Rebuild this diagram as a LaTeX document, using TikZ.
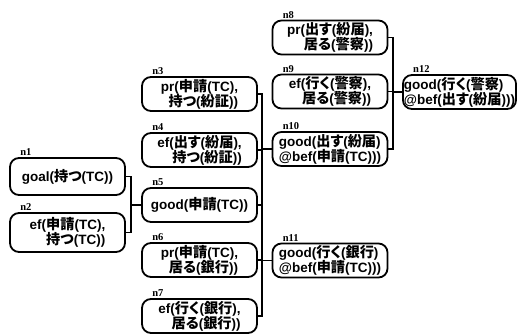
\documentclass[tikz,border=0pt]{standalone}
\usepackage{fontspec}
\setmainfont{Liberation Sans}
\newfontfamily\jpf{Noto Sans CJK JP}[Scale=1.05, RawFeature=+palt]
\newfontfamily\lblf{Liberation Serif}
\newcommand{\jj}[1]{{\jpf\bfseries #1}}
\begin{document}
\begin{tikzpicture}[x=1pt,y=-1pt,
  box/.style={draw, line width=1.8pt, rounded corners=9pt, minimum width=115pt,
    minimum height=34pt, inner sep=1pt, font=\fontsize{13.5}{15}\selectfont\bfseries},
  boxr/.style={box, align=right},
  boxl/.style={box, align=left},
  lbl/.style={font=\lblf\fontsize{10.5}{10}\selectfont\bfseries, anchor=south west, inner sep=1pt},
  conn/.style={line width=1.6pt}]
\useasboundingbox (0,0) rectangle (520,334);
\fill[white] (0,0) rectangle (520,334);
% column 1
\node[box, minimum height=37pt] (n1) at (67.5,176.5) {goal(\jj{持つ}(TC))};
\node[boxr, minimum height=39pt] (n2) at (67.5,232.5) {ef(\jj{申請}(TC),\\\jj{持つ}(TC))};
% column 2
\node[boxr] (n3) at (199.5,94) {pr(\jj{申請}(TC),\\\jj{持つ}(\jj{紛証}))};
\node[boxr] (n4) at (199.5,150) {ef(\jj{出す}(\jj{紛届}),\\\jj{持つ}(\jj{紛証}))};
\node[box] (n5) at (199.5,205) {good(\jj{申請}(TC))};
\node[boxr] (n6) at (199.5,260) {pr(\jj{申請}(TC),\\\jj{居る}(\jj{銀行}))};
\node[boxr] (n7) at (199.5,316) {ef(\jj{行く}(\jj{銀行}),\\\jj{居る}(\jj{銀行}))};
% column 3
\node[boxr] (n8) at (330,37.5) {pr(\jj{出す}(\jj{紛届}),\\\jj{居る}(\jj{警察}))};
\node[boxr] (n9) at (330,91.5) {ef(\jj{行く}(\jj{警察}),\\\jj{居る}(\jj{警察}))};
\node[boxl] (n10) at (330,149) {good(\jj{出す}(\jj{紛届})\\@bef(\jj{申請}(TC)))};
\node[boxl] (n11) at (330,260.5) {good(\jj{行く}(\jj{銀行})\\@bef(\jj{申請}(TC)))};
% column 4
\node[boxl, minimum width=113pt] (n12) at (459.5,92) {good(\jj{行く}(\jj{警察})\\@bef(\jj{出す}(\jj{紛届})))};
% labels
\foreach \n in {1,...,12} {
  \node[lbl] (l\n) at ([xshift=10pt]n\n.north west) {n\n};
}
% connectors
\coordinate (b1) at (131,0);
\coordinate (b2) at (262,0);
\coordinate (b3) at (393,0);
\draw[conn] (n1.east) -- (n1.east -| b1) -- (n2.east -| b1) -- (n2.east);
\draw[conn] (n5.west) -- (n5.west -| b1);
\draw[conn] (n3.east) -- (n3.east -| b2) -- (n7.east -| b2) -- (n7.east);
\draw[conn] (n4.east) -- (n4.east -| b2);
\draw[conn] (n5.east) -- (n5.east -| b2);
\draw[conn] (n6.east) -- (n6.east -| b2);
\draw[conn] (n10.west) -- (n10.west -| b2);
\draw[conn] (n11.west) -- (n11.west -| b2);
\draw[conn] (n8.east) -- (n8.east -| b3) -- (n10.east -| b3) -- (n10.east);
\draw[conn] (n9.east) -- (n9.east -| b3);
\draw[conn] (n12.west) -- (n12.west -| b3);
\end{tikzpicture}
\end{document}
